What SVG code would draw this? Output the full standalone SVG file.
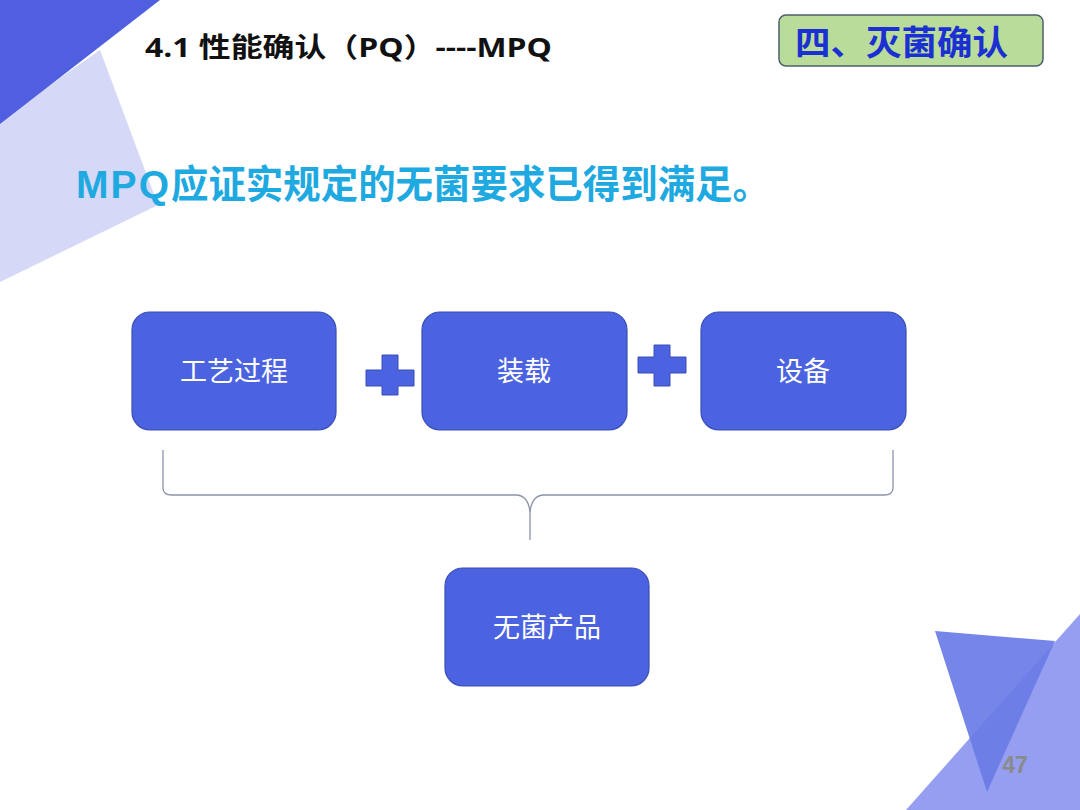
<svg xmlns="http://www.w3.org/2000/svg" width="1080" height="810" viewBox="0 0 1080 810">
<style>
.box{fill:#4b63e0;stroke:#3a4fb5;stroke-width:1.2}
.lbl{font-family:"Noto Sans CJK SC","Liberation Sans",sans-serif;font-size:27px;fill:#ffffff;text-anchor:middle}
.plus{fill:#4b63e0;stroke:#3a4fb5;stroke-width:1}
.brace{fill:none;stroke:#8c93ab;stroke-width:1.3}
.sub{font-family:"Liberation Sans","Noto Sans CJK SC",sans-serif;font-weight:bold;font-size:39px;fill:#1fa9e1}
</style>
<rect width="1080" height="810" fill="#ffffff"/>
<g id="decor">
<polygon points="100,50 158,205 0,282 0,120" fill="#d5d8f6"/>
<polygon points="0,0 160,0 0,124" fill="#4f5fe0"/>
<polygon points="1080,614 1080,810 906,810" fill="#959ef0"/>
<polygon points="935,631 1055,641 987,792" fill="#6a7ce6" fill-opacity="0.92"/>
<text x="1015" y="773" font-family="Liberation Sans,sans-serif" font-weight="bold" font-size="23" fill="#8a8a8a" text-anchor="middle">47</text>
</g>
<g id="title">
<text x="145" y="57" font-family="'Open Sans','Noto Sans CJK SC',sans-serif" font-weight="bold" font-size="27" fill="#111111" textLength="407" lengthAdjust="spacingAndGlyphs">4.1 性能确认（PQ）----MPQ</text>
</g>
<g id="section">
<rect x="779" y="15" width="264" height="51" rx="7" fill="#b9dc9a" stroke="#4e5f6e" stroke-width="1.5"/>
<text x="795" y="55" font-family="'Noto Sans CJK SC',sans-serif" font-weight="bold" font-size="34" fill="#1a30d2" textLength="213" lengthAdjust="spacingAndGlyphs">四、灭菌确认</text>
</g>
<g id="subtitle">
<text class="sub" x="76" y="198" textLength="93" lengthAdjust="spacing">MPQ</text>
<text class="sub" x="171" y="198" textLength="599" lengthAdjust="spacingAndGlyphs">应证实规定的无菌要求已得到满足。</text>
</g>
<g id="connectors">
<path class="brace" d="M163,450 L163,488 Q163,495 172,495 L516,495 Q528,495 530,512 L530,540"/>
<path class="brace" d="M893,450 L893,488 Q893,495 884,495 L544,495 Q532,495 530,512"/>
<path id="plus1" class="plus" d="M382,355 H398 V370 H414 V386 H398 V395 H382 V386 H366 V370 H382 Z"/>
<path id="plus2" class="plus" d="M654,345 H670 V357 H686 V373 H670 V386 H654 V373 H638 V357 H654 Z"/>
</g>
<g id="node-process">
<rect class="box" x="132" y="312" width="204" height="118" rx="18"/>
<text class="lbl" x="234" y="381">工艺过程</text>
</g>
<g id="node-load">
<rect class="box" x="422" y="312" width="205" height="118" rx="18"/>
<text class="lbl" x="524" y="381">装载</text>
</g>
<g id="node-equipment">
<rect class="box" x="701" y="312" width="205" height="118" rx="18"/>
<text class="lbl" x="803" y="381">设备</text>
</g>
<g id="node-product">
<rect class="box" x="445" y="568" width="204" height="118" rx="18"/>
<text class="lbl" x="547" y="637">无菌产品</text>
</g>
</svg>
